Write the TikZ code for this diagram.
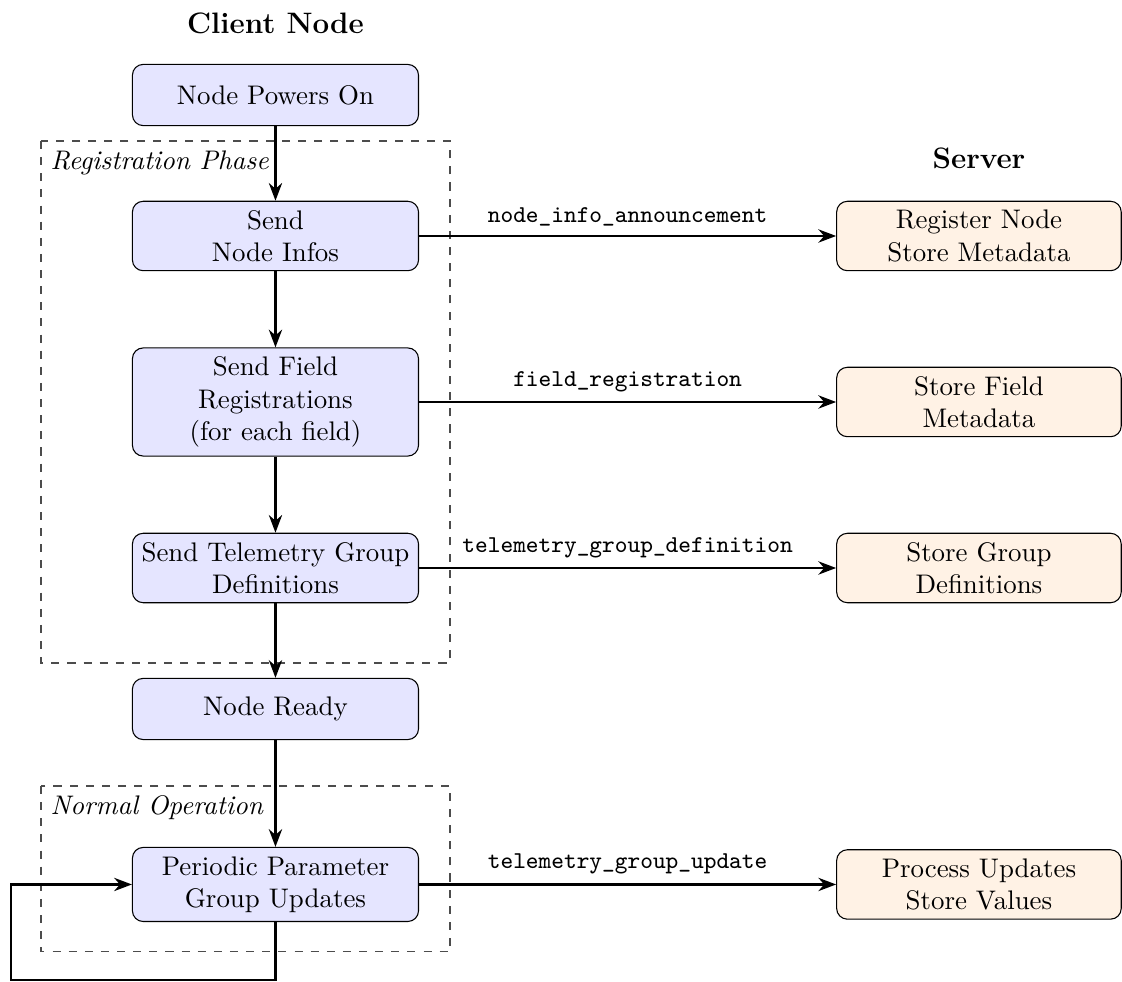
\documentclass[tikz,border=0pt]{standalone}
\usetikzlibrary{arrows.meta}
\begin{document}
\begin{tikzpicture}[>=Stealth,
	client/.style = {rectangle, rounded corners, draw, fill = blue!10, align = center, minimum width = 3.74cm, minimum height = 0.8cm},
	server/.style = {rectangle, rounded corners, draw, fill = orange!10, align = center, minimum width = 3.72cm, minimum height = 0.8cm},
	flow/.style = {->, thick},
	phase/.style = {draw = black!70, dashed},
	title/.style = {font = \fontsize{11}{13}\selectfont\bfseries},
	msg/.style = {above, font = \small\ttfamily}]
	\useasboundingbox (0,0) rectangle (14.667,-12.837);
	% phases
	\draw[phase] (0.536,-1.843) rectangle (5.882,-8.667);
	\draw[phase] (0.536,-10.275) rectangle (5.882,-12.444);
	\node (RP) at (0.536,-1.843)	[anchor = north west, font = \itshape]	{Registration Phase};
	\node (NO) at (0.536,-10.275)	[anchor = north west, font = \itshape]	{Normal Operation};
	% titles
	\node (CN) at (3.601,-0.30)	[title]	{Client Node};
	\node (SV) at (12.797,-2.065)	[title]	{Server};
	% client node
	\node (NPO) at (3.601, -1.242)	[client]	{Node Powers On};
	\node (SNI) at (3.601, -3.085)	[client]	{Send\\Node Infos};
	\node (SFR) at (3.601, -5.255)	[client]	{Send Field\\Registrations\\(for each field)};
	\node (STG) at (3.601, -7.425)	[client]	{Send Telemetry Group\\Definitions};
	\node (NR)  at (3.601, -9.268)	[client]	{Node Ready};
	\node (PPU) at (3.601,-11.562)	[client]	{Periodic Parameter\\Group Updates};
	% server
	\node (RN)  at (12.797, -3.085)	[server]	{Register Node\\Store Metadata};
	\node (SFM) at (12.797, -5.255)	[server]	{Store Field\\Metadata};
	\node (SGD) at (12.797, -7.425)	[server]	{Store Group\\Definitions};
	\node (PU)  at (12.797,-11.562)	[server]	{Process Updates\\Store Values};
	\coordinate (loop) at (0.144,-12.81);
	% sequence
	\draw[flow] (NPO) -- (SNI);
	\draw[flow] (SNI) -- (SFR);
	\draw[flow] (SFR) -- (STG);
	\draw[flow] (STG) -- (NR);
	\draw[flow] (NR) -- (PPU);
	\draw[flow] (PPU.south) |- (loop) |- (PPU.west);
	% messages
	\draw[flow] (SNI) -- node[msg] {node\_info\_announcement} (RN);
	\draw[flow] (SFR) -- node[msg] {field\_registration} (SFM);
	\draw[flow] (STG) -- node[msg] {telemetry\_group\_definition} (SGD);
	\draw[flow] (PPU) -- node[msg] {telemetry\_group\_update} (PU);
\end{tikzpicture}
\end{document}
